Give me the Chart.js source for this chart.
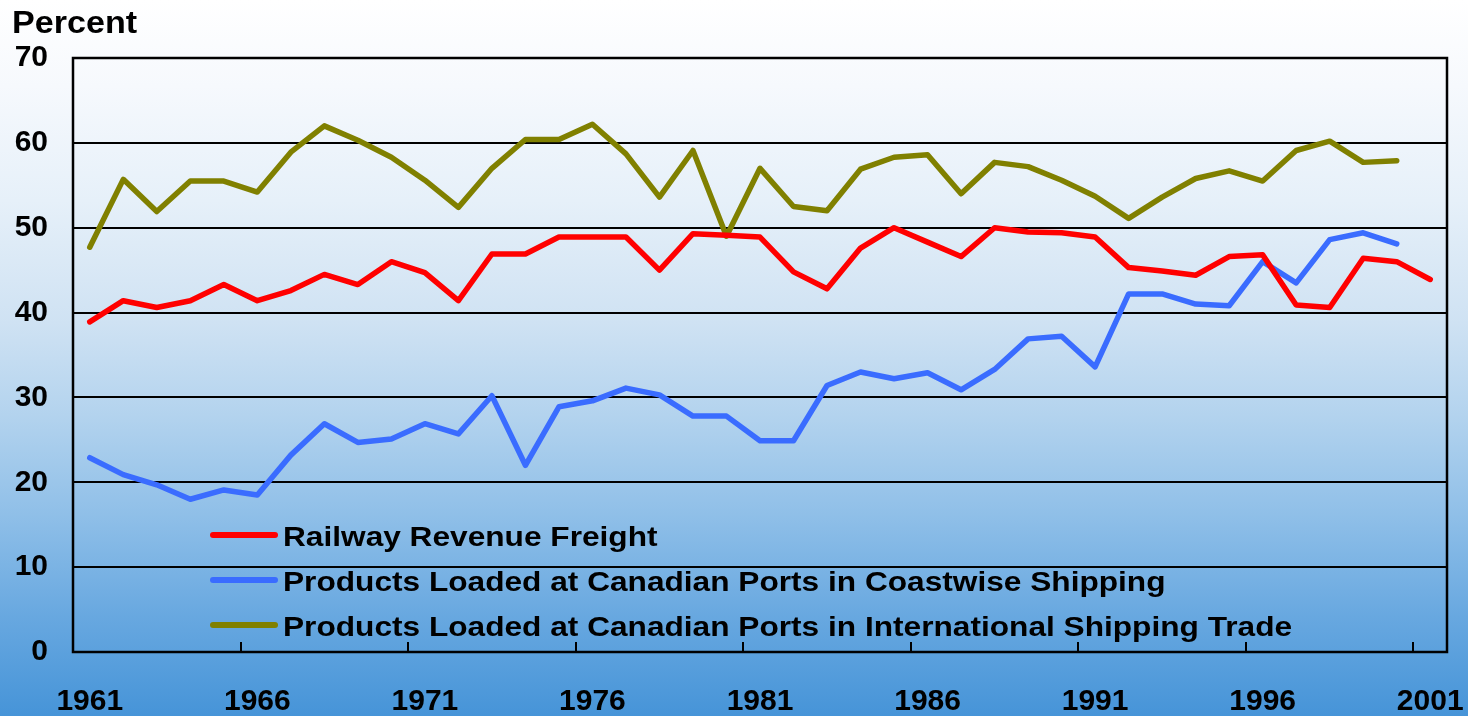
<!DOCTYPE html>
<html>
<head>
<meta charset="utf-8">
<script src="https://cdn.jsdelivr.net/npm/chart.js@4.4.0/dist/chart.umd.min.js"></script>
<style>
  html, body { margin: 0; padding: 0; }
  body { width: 1468px; height: 716px; overflow: hidden;
    background: linear-gradient(to bottom, #ffffff 0%, #f6f9fd 12%, #e6f0f9 28%, #cfe2f3 45%, #b3d3ee 58%, #8fbfe8 72%, #68a8e0 86%, #4694d8 100%); }
  canvas { display: block; }
</style>
</head>
<body>
<canvas id="c" width="1468" height="716"></canvas>
<script>
const years = ["1961","1962","1963","1964","1965","1966","1967","1968","1969","1970",
  "1971","1972","1973","1974","1975","1976","1977","1978","1979","1980",
  "1981","1982","1983","1984","1985","1986","1987","1988","1989","1990",
  "1991","1992","1993","1994","1995","1996","1997","1998","1999","2000","2001"];
const xTickLabels = ["1961","1966","1971","1976","1981","1986","1991","1996","2001"];
const yTicks = [0,10,20,30,40,50,60,70];

const railwayFreight = [38.9,41.4,40.6,41.4,43.3,41.4,42.6,44.5,43.3,46.0,
  44.7,41.4,46.9,46.9,48.9,48.9,48.9,45.0,49.3,49.1,
  48.9,44.8,42.8,47.6,50.0,48.3,46.6,50.0,49.5,49.4,
  48.9,45.3,44.9,44.4,46.6,46.8,40.9,40.6,46.4,46.0,43.9];
const coastwise = [22.9,20.9,19.7,18.0,19.1,18.5,23.2,26.9,24.7,25.1,
  26.9,25.7,30.2,22.0,28.9,29.6,31.1,30.3,27.8,27.8,
  24.9,24.9,31.4,33.0,32.2,32.9,30.9,33.3,36.9,37.2,
  33.6,42.2,42.2,41.0,40.8,46.0,43.5,48.6,49.4,48.1,null];
const international = [47.7,55.7,51.9,55.5,55.5,54.2,58.9,62.0,60.3,58.3,
  55.6,52.4,57.0,60.4,60.4,62.2,58.7,53.6,59.1,49.0,
  57.0,52.5,52.0,56.9,58.3,58.6,54.0,57.7,57.2,55.6,
  53.7,51.1,53.6,55.8,56.7,55.5,59.1,60.2,57.7,57.9,null];

const seriesNames = ["Railway Revenue Freight",
  "Products Loaded at Canadian Ports in Coastwise Shipping",
  "Products Loaded at Canadian Ports in International Shipping Trade"];
const seriesColors = ["#ff0000", "#3a6cff", "#808000"];

const FONT = '"Liberation Sans", Arial, sans-serif';

const framePlugin = {
  id: 'frame',
  beforeDatasetsDraw(chart) {
    const ctx = chart.ctx, a = chart.chartArea, xs = chart.scales.x;
    ctx.save();
    ctx.strokeStyle = '#000';
    ctx.lineWidth = 2.5;
    ctx.strokeRect(a.left, a.top, a.right - a.left, a.bottom - a.top);
    ctx.lineWidth = 2;
    for (let i = 5; i < years.length; i += 5) {
      const x = Math.round((xs.getPixelForValue(i - 1) + xs.getPixelForValue(i)) / 2);
      ctx.beginPath();
      ctx.moveTo(x, a.bottom);
      ctx.lineTo(x, a.bottom - 10);
      ctx.stroke();
    }
    ctx.restore();
  },
  afterDraw(chart) {
    const ctx = chart.ctx, a = chart.chartArea;
    ctx.save();
    ctx.fillStyle = '#000';
    ctx.font = 'bold 31px ' + FONT;
    ctx.textBaseline = 'alphabetic';
    ctx.translate(12, 33);
    ctx.scale(1.1, 1);
    ctx.fillText('Percent', 0, 0);
    ctx.restore();
    ctx.save();
    const lx0 = a.left + 140, lx1 = a.left + 202, tx = a.left + 210;
    const rows = [535, 580, 625];
    chart.data.datasets.forEach((ds, i) => {
      const y = rows[i];
      ctx.strokeStyle = ds.borderColor;
      ctx.lineWidth = 6;
      ctx.lineCap = 'round';
      ctx.beginPath();
      ctx.moveTo(lx0, y);
      ctx.lineTo(lx1, y);
      ctx.stroke();
      ctx.save();
      ctx.fillStyle = '#000';
      ctx.font = 'bold 28px ' + FONT;
      ctx.textBaseline = 'middle';
      ctx.translate(tx, y + 3);
      ctx.scale(1.13, 1);
      ctx.fillText(ds.label, 0, 0);
      ctx.restore();
    });
    ctx.restore();
  }
};

const mkDs = (label, data, color) => ({
  label, data, borderColor: color, backgroundColor: color,
  borderWidth: 5.5, pointRadius: 0, tension: 0, fill: false,
  borderCapStyle: 'round', borderJoinStyle: 'round', spanGaps: false
});

new Chart(document.getElementById('c'), {
  type: 'line',
  data: {
    labels: years,
    datasets: [
      mkDs(seriesNames[0], railwayFreight, seriesColors[0]),
      mkDs(seriesNames[1], coastwise, seriesColors[1]),
      mkDs(seriesNames[2], international, seriesColors[2])
    ]
  },
  options: {
    responsive: false,
    devicePixelRatio: 1,
    animation: false,
    events: [],
    layout: { padding: { top: 58, right: 21, left: 0, bottom: 0 } },
    plugins: { legend: { display: false }, tooltip: { enabled: false }, title: { display: false } },
    scales: {
      x: {
        type: 'category',
        offset: true,
        grid: { display: false, drawTicks: false },
        border: { display: false },
        ticks: {
          autoSkip: false, maxRotation: 0, minRotation: 0, padding: 0,
          color: '#000', font: { family: FONT, size: 30, weight: 'bold', lineHeight: 3.3 },
          callback: function(v, i) { const l = years[i]; return xTickLabels.includes(l) ? l : null; }
        },
        afterFit(s) { s.height = 64; }
      },
      y: {
        min: yTicks[0], max: yTicks[yTicks.length - 1],
        afterBuildTicks(s) { s.ticks = yTicks.map(v => ({ value: v })); },
        grid: { color: '#000', lineWidth: 2, drawTicks: false },
        border: { display: false },
        ticks: { padding: 25, color: '#000', font: { family: FONT, size: 30, weight: 'bold' } },
        afterFit(s) { s.width = 73; }
      }
    }
  },
  plugins: [framePlugin]
});
</script>
</body>
</html>
